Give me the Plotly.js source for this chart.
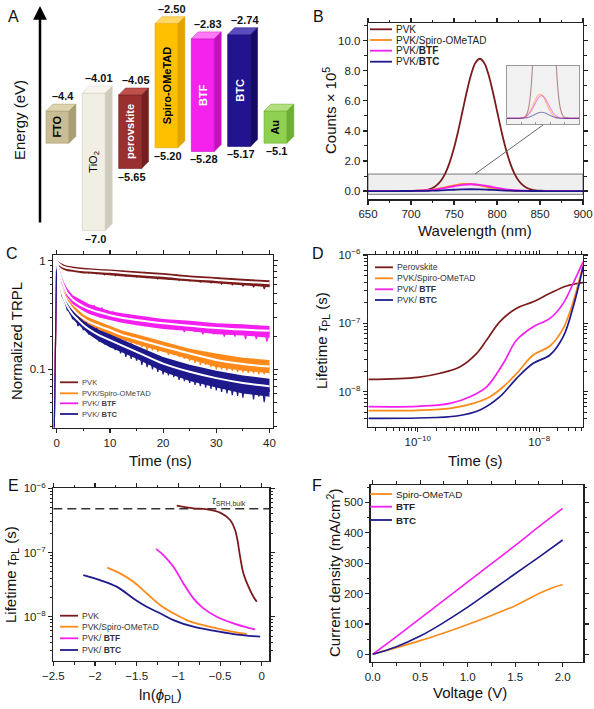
<!DOCTYPE html>
<html><head><meta charset="utf-8">
<script src="https://cdn.plot.ly/plotly-3.0.1.min.js"></script>
<style>html,body{margin:0;padding:0;background:#fff}#chart{width:594px;height:709px}</style>
</head><body><div id="chart"></div>
<script>
// ================= DATA =================
// ---- Panel A: energy levels (eV)
const materials   = ['FTO','TiO<sub>2</sub>','perovskite','Spiro-OMeTAD','BTF','BTC','Au'];
const upperLevel  = [-4.4, -4.01, -4.05, -2.50, -2.83, -2.74, null];
const lowerLevel  = [null, -7.0, -5.65, -5.20, -5.28, -5.17, -5.1];
const upperText   = ['–4.4','–4.01','–4.05','–2.50','–2.83','–2.74',''];
const lowerText   = ['','–7.0','–5.65','–5.20','–5.28','–5.17','–5.1'];

// ---- Panel B: steady-state PL (counts x 1e5)
const wlFine   = [650,660,670,680,690,700,710,715,720,725,730,735,740,745,750,755,760,765,770,775,780,785,790,795,800,805,810,815,820,825,830,835,840,845,850,860,870,880,890,900];
const plPVK    = [0,0,0,0,0,0.01,0.02,0.045,0.10,0.20,0.39,0.70,1.19,1.91,2.86,4.03,5.34,6.64,7.77,8.53,8.80,8.53,7.77,6.64,5.34,4.03,2.86,1.91,1.19,0.70,0.39,0.20,0.10,0.045,0.02,0.01,0,0,0,0];
const wlCoarse = [650,660,670,680,690,700,710,720,730,740,750,760,770,780,790,800,810,820,830,840,850,860,870,880,890,900];
const plSpiro  = [0,0,0,0,0.002,0.006,0.021,0.059,0.135,0.252,0.381,0.468,0.468,0.381,0.252,0.135,0.059,0.021,0.006,0.002,0,0,0,0,0,0];
const plBTF    = [0,0,0,0,0.002,0.006,0.02,0.051,0.112,0.206,0.318,0.413,0.45,0.413,0.318,0.206,0.112,0.051,0.02,0.006,0.002,0,0,0,0,0];
const plBTC    = [0,0,0,0,0.001,0.002,0.007,0.016,0.033,0.058,0.087,0.111,0.12,0.111,0.087,0.058,0.033,0.016,0.007,0.002,0.001,0,0,0,0,0];

// ---- Panel C: TRPL (raw sampled every 0.5 ns from -0.5 ns; band envelopes + fits)
const rawStart = -0.5, rawStep = 0.5;
const trplPVK = [0.02,
 1.0,0.95,0.88,0.90,0.84,0.87,0.82,0.86,0.80,0.84, 0.79,0.83,0.77,0.82,0.80,0.76,0.82,0.78,0.74,0.80,
 0.77,0.81,0.73,0.79,0.76,0.80,0.72,0.78,0.75,0.79, 0.71,0.77,0.74,0.78,0.70,0.75,0.73,0.76,0.68,0.74,
 0.71,0.75,0.67,0.73,0.70,0.74,0.66,0.71,0.69,0.72, 0.65,0.70,0.67,0.71,0.63,0.69,0.66,0.70,0.62,0.68,
 0.65,0.69,0.61,0.66,0.64,0.67,0.60,0.65,0.62,0.66, 0.58,0.64,0.61,0.65,0.57,0.63,0.60,0.64,0.55,0.62, 0.58];
const trplSpiro = [0.02,
 1.0,0.70,0.52,0.49,0.40,0.41,0.34,0.36,0.30,0.33, 0.28,0.30,0.26,0.28,0.24,0.27,0.23,0.26,0.22,0.25,
 0.21,0.24,0.20,0.23,0.19,0.22,0.18,0.21,0.17,0.20, 0.17,0.19,0.16,0.19,0.15,0.18,0.15,0.18,0.145,0.17,
 0.145,0.17,0.135,0.165,0.135,0.16,0.13,0.155,0.125,0.15, 0.12,0.145,0.115,0.14,0.11,0.135,0.11,0.13,0.105,0.13,
 0.10,0.128,0.10,0.125,0.098,0.125,0.097,0.12,0.095,0.12, 0.094,0.118,0.093,0.117,0.092,0.116,0.09,0.115,0.09,0.114, 0.10];
const trplBTF = [0.02,
 1.0,0.80,0.62,0.58,0.47,0.50,0.41,0.46,0.39,0.43, 0.35,0.41,0.37,0.33,0.39,0.34,0.31,0.37,0.32,0.35,
 0.29,0.34,0.31,0.28,0.33,0.30,0.27,0.32,0.29,0.31, 0.26,0.30,0.28,0.25,0.30,0.27,0.29,0.25,0.28,0.26,
 0.29,0.24,0.27,0.25,0.28,0.23,0.27,0.25,0.22,0.27, 0.24,0.26,0.22,0.27,0.24,0.21,0.26,0.23,0.25,0.21,
 0.26,0.23,0.25,0.20,0.25,0.22,0.24,0.20,0.26,0.22, 0.24,0.19,0.24,0.21,0.25,0.19,0.23,0.21,0.24,0.18, 0.22];
const trplBTC = [0.02,
 1.0,0.66,0.47,0.44,0.35,0.36,0.29,0.31,0.25,0.28, 0.23,0.27,0.21,0.25,0.20,0.24,0.18,0.22,0.17,0.21,
 0.16,0.20,0.15,0.19,0.14,0.18,0.13,0.17,0.125,0.165, 0.12,0.15,0.11,0.14,0.105,0.135,0.10,0.13,0.095,0.125,
 0.09,0.125,0.088,0.12,0.085,0.115,0.08,0.11,0.078,0.105, 0.075,0.103,0.072,0.10,0.07,0.098,0.068,0.096,0.066,0.094,
 0.064,0.092,0.062,0.09,0.06,0.088,0.058,0.087,0.057,0.085, 0.055,0.084,0.06,0.083,0.053,0.082,0.056,0.08,0.05,0.079, 0.062];
const tEnv = [0,0.5,1,1.5,2,3,4,5,6,8,10,12,15,20,25,30,35,40];
const fitPVK   = [1.0,0.93,0.89,0.87,0.855,0.84,0.825,0.815,0.81,0.80,0.79,0.775,0.755,0.725,0.69,0.665,0.64,0.62];
const hiPVK    = [1.0,0.97,0.93,0.91,0.90,0.88,0.87,0.86,0.85,0.84,0.83,0.82,0.80,0.77,0.73,0.70,0.68,0.66];
const loPVK    = [1.0,0.88,0.84,0.82,0.80,0.79,0.77,0.76,0.76,0.75,0.74,0.72,0.70,0.67,0.64,0.62,0.59,0.57];
const fitSpiro = [1.0,0.68,0.54,0.47,0.42,0.36,0.32,0.295,0.275,0.25,0.23,0.21,0.19,0.162,0.14,0.122,0.112,0.106];
const hiSpiro  = [1.0,0.72,0.57,0.50,0.45,0.39,0.35,0.32,0.30,0.275,0.25,0.23,0.21,0.18,0.155,0.14,0.128,0.122];
const loSpiro  = [1.0,0.64,0.51,0.44,0.39,0.33,0.295,0.27,0.25,0.225,0.205,0.19,0.17,0.145,0.122,0.105,0.097,0.092];
const fitBTF   = [1.0,0.78,0.65,0.56,0.50,0.44,0.405,0.38,0.36,0.335,0.315,0.30,0.285,0.265,0.252,0.24,0.232,0.226];
const hiBTF    = [1.0,0.82,0.70,0.61,0.55,0.48,0.45,0.42,0.40,0.37,0.345,0.33,0.315,0.29,0.28,0.265,0.26,0.25];
const loBTF    = [1.0,0.74,0.60,0.52,0.46,0.40,0.37,0.345,0.325,0.30,0.285,0.27,0.255,0.235,0.225,0.21,0.205,0.195];
const fitBTC   = [1.0,0.64,0.50,0.43,0.38,0.32,0.285,0.256,0.235,0.205,0.186,0.168,0.145,0.113,0.095,0.083,0.075,0.070];
const hiBTC    = [1.0,0.68,0.53,0.46,0.41,0.35,0.31,0.28,0.26,0.23,0.21,0.19,0.165,0.13,0.11,0.097,0.088,0.082];
const loBTC    = [1.0,0.60,0.47,0.40,0.35,0.29,0.26,0.23,0.21,0.18,0.16,0.145,0.125,0.095,0.078,0.068,0.06,0.056];

// ---- Panel D: lifetime vs time (s)
const dT_PVK   = [1.55e-11,1e-10,2.33e-10,4.97e-10,9.33e-10,1.36e-9,2.25e-9,4.24e-9,7.96e-9,1.5e-8,2.81e-8,5.28e-8];
const dTau_PVK = [1.51e-8,1.62e-8,1.86e-8,2.32e-8,3.64e-8,5.70e-8,1.06e-7,1.66e-7,2.07e-7,2.75e-7,3.52e-7,3.94e-7];
const dT_Spiro   = [1.55e-11,1e-10,3.4e-10,8.22e-10,1.55e-9,2.56e-9,4.24e-9,7.96e-9,1.5e-8,2.48e-8,3.62e-8,5.28e-8];
const dTau_Spiro = [5.27e-9,5.33e-9,5.70e-9,6.75e-9,8.45e-9,1.18e-8,1.85e-8,3.44e-8,4.66e-8,8.45e-8,2.07e-7,7.14e-7];
const dT_BTF   = [1.55e-11,1e-10,3.4e-10,7.24e-10,1.36e-9,2.56e-9,4.24e-9,7.96e-9,1.5e-8,2.48e-8,3.62e-8,5.28e-8];
const dTau_BTF = [6.03e-9,6.10e-9,6.75e-9,8.45e-9,1.18e-8,2.60e-8,5.70e-8,8.93e-8,1.18e-7,1.96e-7,3.85e-7,7.98e-7];
const dT_BTC   = [1.55e-11,1e-10,4.38e-10,1.06e-9,2.25e-9,4.24e-9,7.96e-9,1.5e-8,2.48e-8,3.62e-8,5.28e-8];
const dTau_BTC = [4.07e-9,4.12e-9,4.41e-9,5.40e-9,8.45e-9,1.57e-8,2.60e-8,3.44e-8,6.38e-8,1.75e-7,6.75e-7];

// ---- Panel E: lifetime vs ln(phi_PL)
const eX_PVK   = [-1.02,-0.82,-0.66,-0.50,-0.38,-0.32,-0.292,-0.26,-0.22,-0.16,-0.10,-0.06];
const eTau_PVK = [5.37e-7,4.88e-7,4.71e-7,4.18e-7,3.21e-7,2.24e-7,1.57e-7,8.61e-8,4.73e-8,2.94e-8,2.05e-8,1.71e-8];
const eX_Spiro   = [-1.852,-1.70,-1.54,-1.38,-1.22,-1.06,-0.90,-0.74,-0.54,-0.34,-0.18];
const eTau_Spiro = [5.81e-8,4.73e-8,3.51e-8,2.31e-8,1.52e-8,1.13e-8,8.87e-9,7.60e-9,6.58e-9,5.83e-9,5.37e-9];
const eX_BTF   = [-1.268,-1.18,-1.06,-0.94,-0.82,-0.70,-0.54,-0.34,-0.18,-0.08];
const eTau_BTF = [1.14e-7,9.14e-8,6.01e-8,3.30e-8,1.93e-8,1.35e-8,1.0e-8,7.87e-9,6.82e-9,6.35e-9];
const eX_BTC   = [-2.14,-1.94,-1.74,-1.54,-1.38,-1.22,-1.06,-0.82,-0.58,-0.34,-0.02];
const eTau_BTC = [4.46e-8,3.72e-8,2.94e-8,1.93e-8,1.43e-8,1.13e-8,8.87e-9,6.98e-9,6.05e-9,5.37e-9,4.88e-9];
const tauSRHbulk = 4.8e-7;

// ---- Panel F: J-V
const fV      = [0,0.25,0.5,0.75,1.0,1.25,1.5,1.75,2.0];
const fJ_BTF  = [0,58,118,178,238,298,358,420,480];
const fJ_BTC  = [0,25,60,105,155,210,265,320,376];
const fV_Spiro = [0,0.25,0.5,0.75,1.0,1.25,1.5,1.75,1.9,2.0];
const fJ_Spiro = [0,22,45,70,98,128,160,200,220,230];

// ---- names
const namesB = ['PVK','PVK/Spiro-OMeTAD','PVK/<b>BTF</b>','PVK/<b>BTC</b>'];
const namesC = ['PVK','PVK/Spiro-OMeTAD','PVK/ <b>BTF</b>','PVK/ <b>BTC</b>'];
const namesD = ['Perovskite','PVK/Spiro-OMeTAD','PVK/ <b>BTF</b>','PVK/ <b>BTC</b>'];
const namesF = ['Spiro-OMeTAD','<b>BTF</b>','<b>BTC</b>'];

// ================= STYLE / LAYOUT =================
const FONT = '"Liberation Sans", Arial, sans-serif';
const W = 594, H = 709;
const X = p => p / W, Y = p => 1 - p / H;
const C_PVK = '#7b1c1c', C_SPIRO = '#ff8a1a', C_BTF = '#f51ff0', C_BTC = '#1e1a8c';

const traces = [], shapes = [], annotations = [];

// ---- Panel A
const frontCol = ['#c9bd95','#f1eee3','#9b2f2f','#ffc000','#f522ee','#22138f','#90d050'];
const sideCol  = ['#a99d76','#cfccbe','#752020','#e3a400','#c410bd','#150a66','#6fae35'];
const topCol   = ['#ddd3ad','#f8f6ef','#c0504c','#ffd866','#ff7af5','#5a4cc0','#b2e07e'];
const labCol   = ['#000','#000','#fff','#000','#fff','#fff','#000'];
const boxThick = 0.7, barW = 0.633, depthX = 0.19, depthY = 0.15;
const idx = materials.map((_, i) => i);
const aTop = upperLevel.map((u, i) => u !== null ? u : lowerLevel[i] + boxThick);
const aBot = lowerLevel.map((l, i) => l !== null ? l : upperLevel[i] - boxThick);
traces.push({type:'bar', x:idx, y:aTop.map((t,i)=>t-aBot[i]), base:aBot, width:barW,
  marker:{color:frontCol, line:{color:sideCol, width:0.6}}, xaxis:'x7', yaxis:'y7', hoverinfo:'skip'});
idx.forEach(i => {
  const x0 = i - barW/2, x1 = i + barW/2, t = aTop[i], b = aBot[i];
  shapes.push({type:'path', xref:'x7', yref:'y7', layer:'above',
    path:`M${x0},${t} L${x1},${t} L${x1+depthX},${t+depthY} L${x0+depthX},${t+depthY} Z`,
    fillcolor:topCol[i], line:{color:sideCol[i], width:0.5}});
  shapes.push({type:'path', xref:'x7', yref:'y7', layer:'above',
    path:`M${x1},${t} L${x1+depthX},${t+depthY} L${x1+depthX},${b+depthY} L${x1},${b} Z`,
    fillcolor:sideCol[i], line:{color:sideCol[i], width:0.5}});
  annotations.push({xref:'x7', yref:'y7', x:i, y:(t+b)/2, xanchor:'center', yanchor:'middle',
    text: i===1 ? materials[i] : '<b>'+materials[i]+'</b>',
    textangle:-90, showarrow:false, font:{family:FONT, size:11, color:labCol[i]}});
  if (upperText[i]) annotations.push({xref:'x7', yref:'y7', x:i+0.15, y:t+depthY, xanchor:'center', yanchor:'bottom',
    text:'<b>'+upperText[i]+'</b>', showarrow:false, font:{family:FONT, size:11, color:'#111'}});
  if (lowerText[i]) annotations.push({xref:'x7', yref:'y7', x:i+0.04, y:b, xanchor:'center', yanchor:'top',
    text:'<b>'+lowerText[i]+'</b>', showarrow:false, font:{family:FONT, size:11, color:'#111'}});
});
annotations.push({xref:'paper', yref:'paper', x:X(40), y:Y(6), ax:0, ay:218, text:'', showarrow:true,
  arrowhead:2, arrowsize:1.1, arrowwidth:2.5, arrowcolor:'#000'});

// ---- Panel B
const bSeries = [[wlFine, plPVK, C_PVK],[wlCoarse, plSpiro, C_SPIRO],[wlCoarse, plBTF, C_BTF],[wlCoarse, plBTC, C_BTC]];
bSeries.forEach(s => traces.push({type:'scatter', mode:'lines', x:s[0], y:s[1], line:{color:s[2], width:1.8, shape:'spline'}, xaxis:'x', yaxis:'y'}));
bSeries.forEach(s => traces.push({type:'scatter', mode:'lines', x:s[0], y:s[1], line:{color:s[2], width:1.1, shape:'spline'}, opacity:0.5, xaxis:'x6', yaxis:'y6'}));
shapes.push({type:'rect', xref:'x', yref:'y', x0:650, x1:900, y0:-0.22, y1:1.13, layer:'below', fillcolor:'#efefef', line:{color:'#777', width:1}});
shapes.push({type:'rect', xref:'paper', yref:'paper', x0:X(507), x1:X(579), y0:Y(124), y1:Y(66), layer:'below', fillcolor:'#f2f2f2', line:{width:0}});
shapes.push({type:'line', xref:'paper', yref:'paper', x0:X(475), y0:Y(174), x1:X(543), y1:Y(125), line:{color:'#666', width:1}});

// ---- Panel C
const tRaw = trplPVK.map((_, i) => rawStart + rawStep*i);
const cSeries = [[trplPVK, hiPVK, loPVK, C_PVK],[trplSpiro, hiSpiro, loSpiro, C_SPIRO],[trplBTF, hiBTF, loBTF, C_BTF],[trplBTC, hiBTC, loBTC, C_BTC]];
cSeries.forEach(s => {
  traces.push({type:'scatter', mode:'lines', x:tEnv, y:s[2], line:{width:0, color:s[3]}, xaxis:'x2', yaxis:'y2'});
  traces.push({type:'scatter', mode:'lines', x:tEnv, y:s[1], line:{width:0, color:s[3]}, fill:'tonexty', fillcolor:s[3], xaxis:'x2', yaxis:'y2'});
  traces.push({type:'scatter', mode:'lines', x:tRaw, y:s[0], line:{width:1.2, color:s[3]}, xaxis:'x2', yaxis:'y2'});
});
[fitPVK, fitSpiro, fitBTF, fitBTC].forEach(f => traces.push({type:'scatter', mode:'lines', x:tEnv, y:f,
  line:{color:'#fff', width:2, shape:'spline'}, xaxis:'x2', yaxis:'y2'}));

// ---- Panel D
[[dT_PVK,dTau_PVK,C_PVK],[dT_Spiro,dTau_Spiro,C_SPIRO],[dT_BTF,dTau_BTF,C_BTF],[dT_BTC,dTau_BTC,C_BTC]].forEach(s =>
  traces.push({type:'scatter', mode:'lines', x:s[0], y:s[1], line:{color:s[2], width:1.7, shape:'spline'}, xaxis:'x3', yaxis:'y3'}));

// ---- Panel E
traces.push({type:'scatter', mode:'lines', x:[-2.5, 0.09], y:[tauSRHbulk, tauSRHbulk], line:{color:'#333', width:1.5, dash:'9px,5px'}, xaxis:'x4', yaxis:'y4'});
[[eX_PVK,eTau_PVK,C_PVK],[eX_Spiro,eTau_Spiro,C_SPIRO],[eX_BTF,eTau_BTF,C_BTF],[eX_BTC,eTau_BTC,C_BTC]].forEach(s =>
  traces.push({type:'scatter', mode:'lines', x:s[0], y:s[1], line:{color:s[2], width:1.8, shape:'spline'}, xaxis:'x4', yaxis:'y4'}));
annotations.push({xref:'paper', yref:'paper', x:X(210), y:Y(501), xanchor:'left', yanchor:'middle', showarrow:false,
  text:'<i>τ</i><sub>SRH,bulk</sub>', font:{family:FONT, size:10, color:'#333'}});

// ---- Panel F
[[fV_Spiro,fJ_Spiro,C_SPIRO],[fV,fJ_BTF,C_BTF],[fV,fJ_BTC,C_BTC]].forEach(s =>
  traces.push({type:'scatter', mode:'lines', x:s[0], y:s[1], line:{color:s[2], width:1.6, shape:'spline'}, xaxis:'x5', yaxis:'y5'}));

// ---- Legends (drawn manually)
function addLegend(names, colors, x0, rows, len, size, tcol) {
  names.forEach((n, i) => {
    shapes.push({type:'line', xref:'paper', yref:'paper', x0:X(x0), x1:X(x0+len), y0:Y(rows[i]), y1:Y(rows[i]), line:{color:colors[i], width:1.8}});
    annotations.push({xref:'paper', yref:'paper', x:X(x0+len+2), y:Y(rows[i]), xanchor:'left', yanchor:'middle',
      text:n, showarrow:false, font:{family:FONT, size:size, color:tcol}});
  });
}
const col4 = [C_PVK, C_SPIRO, C_BTF, C_BTC];
addLegend(namesB, col4, 370, [29.3,40,50.7,61.7], 22, 10, '#222');
addLegend(namesC, col4, 60, [382.3,393.3,403.3,414], 18, 7.6, '#444');
addLegend(namesD, col4, 375, [267.3,278.3,289.3,300], 18, 8.7, '#333');
addLegend(namesC, col4, 60, [615.7,626.7,638.3,650], 18, 8.5, '#333');
addLegend(namesF, [C_SPIRO, C_BTF, C_BTC], 370, [494,506.7,520], 22, 9.8, '#222');

// ---- axis titles & panel letters
function txt(x, y, t, size, angle) {
  annotations.push({xref:'paper', yref:'paper', x:X(x), y:Y(y), xanchor:'center', yanchor:'middle', text:t, showarrow:false,
    textangle:angle||0, font:{family:FONT, size:size, color:'#111'}});
}
txt(20, 120, 'Energy (eV)', 15, -90);
txt(330, 111, 'Counts × 10<sup>5</sup>', 15, -90);
txt(475, 230.5, 'Wavelength (nm)', 15);
txt(17, 341, 'Normalized TRPL', 15, -90);
txt(160, 460, 'Time (ns)', 15);
txt(323, 341, 'Lifetime <i>τ</i><sub>PL</sub> (s)', 15, -90);
txt(475, 460, 'Time (s)', 15);
txt(11, 575, 'Lifetime <i>τ</i><sub>PL</sub> (s)', 15, -90);
txt(160, 695, 'ln(<i>ϕ</i><sub>PL</sub>)', 15);
txt(333, 573, 'Current density (mA/cm<sup>2</sup>)', 15, -90);
txt(470, 692, 'Voltage (V)', 15);
[['A',13,17],['B',318,17],['C',12,253],['D',318,253],['E',13,485],['F',317,485]].forEach(l => txt(l[1], l[2], l[0], 16));

// ---- axes
const MINOR = o => Object.assign({ticks:'outside', ticklen:2.5, tickwidth:1, tickcolor:'#222'}, o);
function ax(o) {
  return Object.assign({showgrid:false, zeroline:false, showline:true, linecolor:'#222', linewidth:1.3,
    mirror:'allticks', ticks:'outside', ticklen:4, tickwidth:1.2, tickcolor:'#222',
    tickfont:{family:FONT, size:11.5, color:'#222'}, automargin:false}, o);
}
function logMinor(k0, k1, extraDecades) {
  const v = [];
  for (let k = k0; k <= k1; k++) for (let m = 2; m <= 9; m++) v.push(m * Math.pow(10, k));
  (extraDecades || []).forEach(k => v.push(Math.pow(10, k)));
  return v;
}
const sup = k => '10<sup>−' + Math.abs(k) + '</sup>';

const layout = {
  width:W, height:H, margin:{l:0, r:0, t:0, b:0}, paper_bgcolor:'#fff', plot_bgcolor:'rgba(0,0,0,0)',
  showlegend:false, font:{family:FONT, size:11.5, color:'#222'},
  // B
  xaxis: ax({domain:[X(368),X(583)], range:[650,900], dtick:50, tick0:650, minor:MINOR({dtick:25, tick0:650}), anchor:'y'}),
  yaxis: ax({domain:[Y(199.3),Y(23.3)], range:[-0.55,11.16], dtick:2, tick0:0, tickformat:'.1f', minor:MINOR({dtick:1, tick0:0}), anchor:'x'}),
  // C
  xaxis2: ax({domain:[X(53.3),X(272.7)], range:[-0.64,40.6], dtick:10, tick0:0, minor:MINOR({dtick:5, tick0:0}), anchor:'y2'}),
  yaxis2: ax({type:'log', domain:[Y(427.5),Y(255)], range:[-1.535,0.052], tickmode:'array', tickvals:[0.1,1], ticktext:['0.1','1'],
    minor:MINOR({tickmode:'array', tickvals:logMinor(-2,-1)}), anchor:'x2'}),
  // D
  xaxis3: ax({type:'log', domain:[X(368),X(583)], range:[-10.82,-7.28], tickmode:'array', tickvals:[1e-10,1e-8], ticktext:[sup(10),sup(8)],
    minor:MINOR({tickmode:'array', tickvals:logMinor(-12,-8,[-11,-9])}), anchor:'y3'}),
  yaxis3: ax({type:'log', domain:[Y(427),Y(255)], range:[-8.517,-6], tickmode:'array', tickvals:[1e-8,1e-7,1e-6], ticktext:[sup(8),sup(7),sup(6)],
    minor:MINOR({tickmode:'array', tickvals:logMinor(-9,-7)}), anchor:'x3'}),
  // E
  xaxis4: ax({domain:[X(53.3),X(269.3)], range:[-2.5,0.09], dtick:0.5, tick0:0, minor:MINOR({dtick:0.25, tick0:0}), anchor:'y4'}),
  yaxis4: ax({type:'log', domain:[Y(660.7),Y(488.3)], range:[-8.685,-6], tickmode:'array', tickvals:[1e-8,1e-7,1e-6], ticktext:[sup(8),sup(7),sup(6)],
    minor:MINOR({tickmode:'array', tickvals:logMinor(-9,-7)}), anchor:'x4'}),
  // F
  xaxis5: ax({domain:[X(370.7),X(583.3)], range:[-0.021,2.217], dtick:0.5, tick0:0, tickformat:'.1f', minor:MINOR({dtick:0.25, tick0:0}), anchor:'y5'}),
  yaxis5: ax({domain:[Y(661.7),Y(485)], range:[-24.3,557], dtick:100, tick0:0, minor:MINOR({dtick:50, tick0:0}), anchor:'x5'}),
  // inset
  xaxis6: {domain:[X(507),X(579)], range:[650,900], showgrid:false, zeroline:false, showline:true, mirror:true, linecolor:'#999', linewidth:1,
    ticks:'inside', ticklen:2, tickcolor:'#999', dtick:50, showticklabels:false, anchor:'y6'},
  yaxis6: {domain:[Y(124),Y(66)], range:[-0.11,1.03], showgrid:false, zeroline:false, showline:true, mirror:true, linecolor:'#999', linewidth:1,
    ticks:'', showticklabels:false, anchor:'x6'},
  // A
  xaxis7: {domain:[X(40),X(300)], range:[-0.482,6.675], visible:false, anchor:'y7'},
  yaxis7: {domain:[Y(240),Y(0)], range:[-7.204,-1.987], visible:false, anchor:'x7'},
  shapes: shapes,
  annotations: annotations
};

Plotly.newPlot('chart', traces, layout, {staticPlot:true, displayModeBar:false});
</script>
</body></html>
